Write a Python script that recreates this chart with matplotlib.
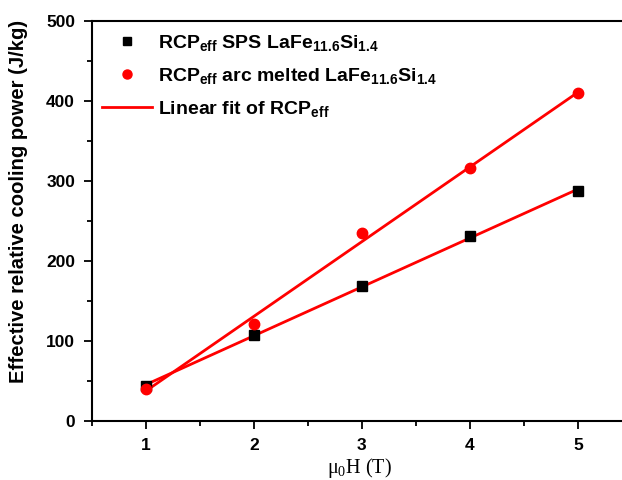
import numpy as np
import matplotlib
matplotlib.use("Agg")
import matplotlib.pyplot as plt
from matplotlib.ticker import MultipleLocator

plt.rcParams["font.family"] = ["Liberation Sans", "DejaVu Sans"]
plt.rcParams["font.weight"] = "bold"
plt.rcParams["mathtext.fontset"] = "custom"
plt.rcParams["mathtext.rm"] = "Liberation Sans:bold"
plt.rcParams["mathtext.bf"] = "Liberation Sans:bold"
plt.rcParams["mathtext.default"] = "regular"

# data
field = [1, 2, 3, 4, 5]
rcp_sps = [44, 107, 169, 231, 288]
rcp_arc = [40, 121, 235, 316, 410]

W, H = 622, 480
fig = plt.figure(figsize=(W / 100, H / 100), dpi=100)
# axes: left spine at x=91.7 px, y from 21.3 to 421 px, x range 0.5..5.5
ax = fig.add_axes([91.7 / W, 1 - 421 / H, 540.5 / W, 399.7 / H])

# linear fits
xf = np.array([1.0, 5.0])
for y in (rcp_sps, rcp_arc):
    k, b = np.polyfit(field, y, 1)
    ax.plot(xf, k * xf + b, color="#ff0000", lw=2.0, zorder=2)

ax.plot(field, rcp_sps, "s", color="black", ms=7, zorder=3)
ax.plot(field, rcp_arc, "o", color="#ff0000", ms=7.5, zorder=3)

# legend
h1, = ax.plot([], [], "s", color="black", ms=6)
h2, = ax.plot([], [], "o", color="#ff0000", ms=6.5)
h3, = ax.plot([], [], "-", color="#ff0000", lw=2)
fig.legend([h1, h2, h3],
           [r"RCP$_{eff}$ SPS LaFe$_{11.6}$Si$_{1.4}$",
            r"RCP$_{eff}$ arc melted LaFe$_{11.6}$Si$_{1.4}$",
            r"Linear fit of RCP$_{eff}$"],
           loc="upper left", bbox_to_anchor=(101.7 / W, 1 - 33 / H),
           frameon=False, handlelength=2.6, borderaxespad=0, borderpad=0,
           labelspacing=0.66, handletextpad=0.3,
           prop={"weight": "bold", "size": 14})

ax.set_xlim(0.5, 5.5)
ax.set_ylim(0, 500)
ax.xaxis.set_major_locator(MultipleLocator(1))
ax.xaxis.set_minor_locator(MultipleLocator(0.5))
ax.yaxis.set_major_locator(MultipleLocator(100))
ax.yaxis.set_minor_locator(MultipleLocator(50))
ax.tick_params(which="major", direction="out", length=6, width=1.3,
               labelsize=12.5, pad=6)
ax.tick_params(which="minor", direction="out", length=3.5, width=1.3)
for lab in ax.get_xticklabels() + ax.get_yticklabels():
    lab.set_fontweight("bold")
for s in ax.spines.values():
    s.set_linewidth(1.5)

ax.set_ylabel("Effective relative cooling power (J/kg)", fontsize=14.6,
              fontweight="bold")
ax.yaxis.set_label_coords((28 - 91.7) / 540.5, (421 - 201) / 399.7)
ax.set_xlabel(r"μ$_\mathregular{0}$H (T)", fontsize=14.5, fontweight="normal",
              family="Liberation Serif")
ax.xaxis.set_label_coords((359 - 91.7) / 540.5, -(456.5 - 421) / 399.7)

fig.savefig("out.png", dpi=100)
